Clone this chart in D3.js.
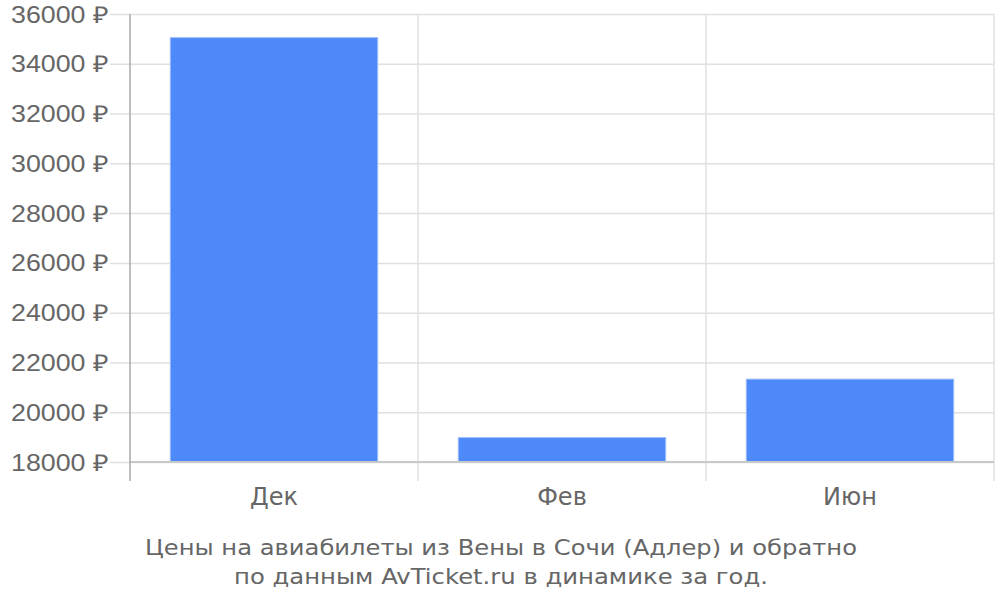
<head><meta charset="utf-8"></head>
<body style="margin:0">
    <div id="chart"></div>
    <script src="https://cdnjs.cloudflare.com/ajax/libs/d3/7.8.5/d3.min.js"></script>
    <script>
        var months = ['Дек', 'Фев', 'Июн'];
        var prices = [35050, 18980, 21330];
        var yTicks = [18000, 20000, 22000, 24000, 26000, 28000, 30000, 32000, 34000, 36000];
        var titleLines = ['Цены на авиабилеты из Вены в Сочи (Адлер) и обратно',
                          'по данным AvTicket.ru в динамике за год.'];

        var width = 1000,
            height = 600,
            plotLeft = 130, plotRight = 994,
            plotTop = 14, plotBottom = 462,
            textColor = '#666';

        var svg = d3.select('#chart')
            .append('svg')
            .attr('width', width)
            .attr('height', height)
            .style('font-family', 'DejaVu Sans');

        var x = d3.scaleBand()
            .domain(months)
            .range([plotLeft, plotRight])
            .paddingInner(0.28)
            .paddingOuter(0.14);

        var y = d3.scaleLinear()
            .domain([18000, 36000])
            .range([plotBottom, plotTop]);

        // horizontal grid + labels
        var gridLen = plotRight - plotLeft + 20;
        var yAxis = svg.append('g')
            .attr('transform', 'translate(' + plotRight + ',0)')
            .call(d3.axisLeft(y).tickValues(yTicks).tickSize(gridLen)
                .tickFormat(function(d){ return d + ' ₽'; }));
        yAxis.select('.domain').remove();
        yAxis.selectAll('line').attr('stroke', '#e0e0e0').attr('stroke-width', 1.5);
        yAxis.selectAll('text')
            .attr('x', -gridLen - 2)
            .attr('dy', '0.35em')
            .attr('fill', textColor)
            .attr('textLength', 97)
            .attr('lengthAdjust', 'spacingAndGlyphs')
            .style('font-size', '23px');

        // vertical category boundaries
        var bounds = months.map(function(m){ return x(m) + x.bandwidth() + x.step() * x.paddingInner() / 2; });
        svg.append('g').selectAll('line')
            .data(bounds)
            .enter().append('line')
            .attr('x1', function(d){ return d; })
            .attr('x2', function(d){ return d; })
            .attr('y1', plotTop)
            .attr('y2', 481)
            .attr('stroke', '#e0e0e0')
            .attr('stroke-width', 1.5);

        // bars
        svg.append('g').selectAll('rect')
            .data(prices)
            .enter().append('rect')
            .attr('x', function(d, i){ return x(months[i]); })
            .attr('y', function(d){ return y(d); })
            .attr('width', x.bandwidth())
            .attr('height', function(d){ return y(18000) - y(d); })
            .attr('fill', '#4d89f9')
            .attr('stroke', '#9bbcf8')
            .attr('stroke-width', 1);

        // axis lines
        svg.append('line')
            .attr('x1', plotLeft).attr('x2', plotRight)
            .attr('y1', plotBottom).attr('y2', plotBottom)
            .attr('stroke', '#c8c8c8').attr('stroke-width', 2);
        svg.append('line')
            .attr('x1', plotLeft).attr('x2', plotLeft)
            .attr('y1', plotTop).attr('y2', 481)
            .attr('stroke', '#aaa').attr('stroke-width', 1.5);

        // month labels
        svg.append('g').selectAll('text')
            .data(months)
            .enter().append('text')
            .attr('x', function(d){ return x(d) + x.bandwidth() / 2; })
            .attr('y', 505)
            .attr('text-anchor', 'middle')
            .attr('fill', textColor)
            .style('font-size', '24px')
            .text(function(d){ return d; });

        // title
        var titleWidths = [712, 534];
        svg.append('g').selectAll('text')
            .data(titleLines)
            .enter().append('text')
            .attr('x', 501)
            .attr('y', function(d, i){ return 555 + i * 29; })
            .attr('text-anchor', 'middle')
            .attr('fill', textColor)
            .attr('textLength', function(d, i){ return titleWidths[i]; })
            .attr('lengthAdjust', 'spacingAndGlyphs')
            .style('font-size', '22px')
            .text(function(d){ return d; });
    </script>
</body>
